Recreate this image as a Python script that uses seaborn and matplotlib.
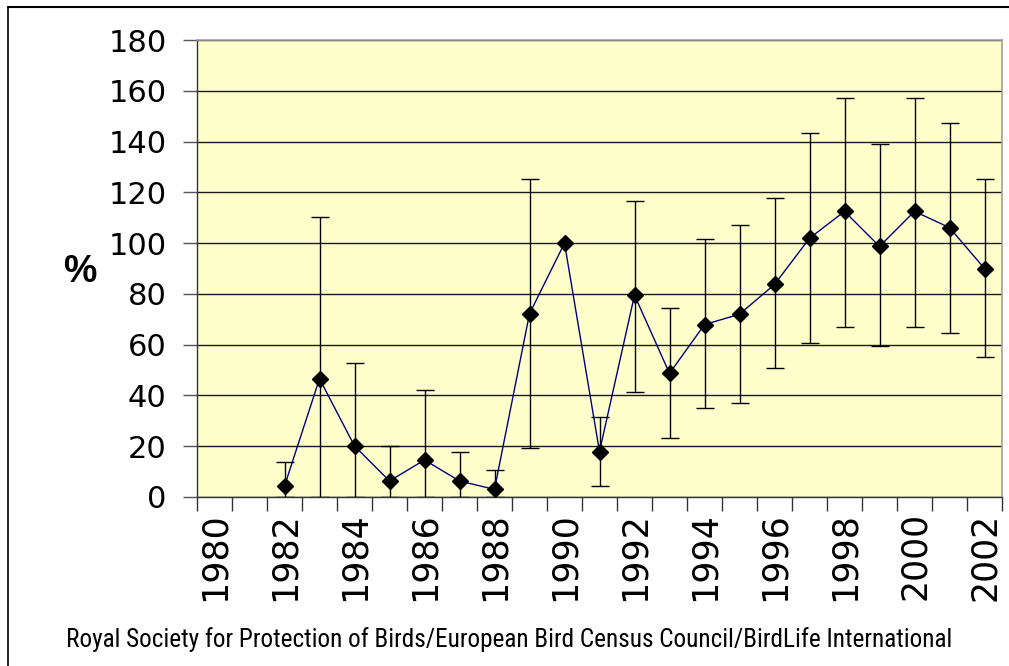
#!/usr/bin/env python3

import numpy as np
import pandas as pd
import matplotlib
matplotlib.use('Agg')
import matplotlib.pyplot as plt
from matplotlib import font_manager
from matplotlib.lines import Line2D
import seaborn as sns

SET_DPI = 100
FIGSIZE = (10.09, 6.66)

YEARS = list(range(1980, 2003))
# index value (% of 1990); nan = no data
INDEX = [np.nan, np.nan, 4.3, 46.6, 20.1, 6.3, 14.6, 6.3, 3.0, 72.2, 100.0,
         17.9, 79.5, 48.7, 67.9, 72.0, 83.7, 101.9, 112.5, 98.7, 112.5,
         106.1, 90.0]
UPPER = [np.nan, np.nan, 13.8, 110.2, 52.9, 20.1, 42.3, 17.9, 10.5, 125.2,
         np.nan, 31.7, 116.7, 74.3, 101.7, 107.1, 117.7, 143.2, 157.0, 139.0,
         157.0, 147.4, 125.2]
LOWER = [np.nan, np.nan, 0, 0, 0, 0, 0, 0, 0, 19.2, np.nan, 4.3, 41.3, 23.2,
         35.0, 37.2, 50.9, 60.5, 66.9, 59.4, 66.9, 64.7, 55.1]
TICK_YEARS = YEARS[::2]
Y_TICKS = list(range(0, 181, 20))
SOURCE = ('Royal Society for Protection of Birds/European Bird Census '
          'Council/BirdLife International')


def pick_font(names):
    for name in names:
        try:
            font_manager.findfont(name, fallback_to_default=False)
            return name
        except ValueError:
            continue
    return 'DejaVu Sans'


sns.set_style('white')
plt.rcParams['font.family'] = ['DejaVu Sans']
plt.rcParams['text.color'] = 'black'
plt.rcParams['xtick.color'] = 'black'
plt.rcParams['ytick.color'] = 'black'
plt.rcParams['axes.labelcolor'] = 'black'

data = pd.DataFrame({'year': YEARS, 'index': INDEX,
                     'upper': UPPER, 'lower': LOWER})

fig = plt.figure(figsize=FIGSIZE, dpi=SET_DPI)
ax = fig.add_axes([197 / 1009, 1 - 497 / 666, 805 / 1009, 457 / 666])
ax.set_facecolor('#ffffcc')

# error bars
err = data.dropna(subset=['upper'])
ax.errorbar(err['year'], err['index'],
            yerr=[err['index'] - err['lower'], err['upper'] - err['index']],
            fmt='none', ecolor='black', elinewidth=1, capsize=6.8,
            capthick=1, zorder=2, clip_on=True)

sns.lineplot(data=data.dropna(subset=['index']), x='year', y='index',
             errorbar=None, color='#00007f', linewidth=1, marker='D',
             markersize=8.5, markerfacecolor='black', markeredgecolor='black',
             markeredgewidth=1, ax=ax, zorder=3)

ax.set_xlim(1979.5, 2002.5)
ax.set_ylim(0, 180)
ax.set_yticks(Y_TICKS)
ax.set_yticklabels([str(v) for v in Y_TICKS], fontsize=22)
ax.yaxis.grid(True, color='#1a1a1a', linewidth=1)
ax.xaxis.grid(False)
ax.set_axisbelow(True)

# category boundaries as ticks, labels on every other year
ax.set_xticks(np.arange(1979.5, 2003, 1))
ax.set_xticklabels([])
ax.set_xticks(TICK_YEARS, minor=True)
ax.set_xticklabels([str(y) for y in TICK_YEARS], minor=True, rotation=90,
                   fontsize=25)
ax.tick_params(axis='x', which='major', direction='out', length=10,
               width=1, color='#333333', bottom=True)
ax.tick_params(axis='x', which='minor', length=0, pad=11, bottom=True)
ax.tick_params(axis='y', direction='out', length=10, width=1,
               color='#555555', pad=12, left=True)

ax.set_xlabel('')
ax.set_ylabel('%', fontsize=27, fontweight='bold', rotation=0,
              family='Liberation Sans', va='center', ha='center')
ax.yaxis.set_label_coords(80 / 805 - 197 / 805, (497 - 272) / 457)

for side in ['top', 'right']:
    ax.spines[side].set_color('#a0a0a0')
    ax.spines[side].set_linewidth(1.2)
for side in ['left', 'bottom']:
    ax.spines[side].set_color('#333333')
    ax.spines[side].set_linewidth(1)

# source line, narrow font squeezed to the reference width
src_font = pick_font(['Liberation Sans Narrow', 'DejaVu Sans Condensed',
                      'Roboto Condensed', 'Liberation Sans'])
src = fig.text(66 / 1009, 1 - 647 / 666, SOURCE, ha='left', va='baseline',
               fontsize=19, family=src_font)
renderer = fig.canvas.get_renderer()
width = src.get_window_extent(renderer).width
if width > 890:
    src.set_fontsize(19 * 890 / width)

# outer chart frame (left and top edges visible)
fig.add_artist(Line2D([8 / 1009, 8 / 1009], [0, 1 - 7 / 666],
                      transform=fig.transFigure, color='black', lw=1.2))
fig.add_artist(Line2D([8 / 1009, 1], [1 - 7 / 666, 1 - 7 / 666],
                      transform=fig.transFigure, color='black', lw=1.5))

plt.savefig('out.png', dpi=SET_DPI)
plt.close('all')
